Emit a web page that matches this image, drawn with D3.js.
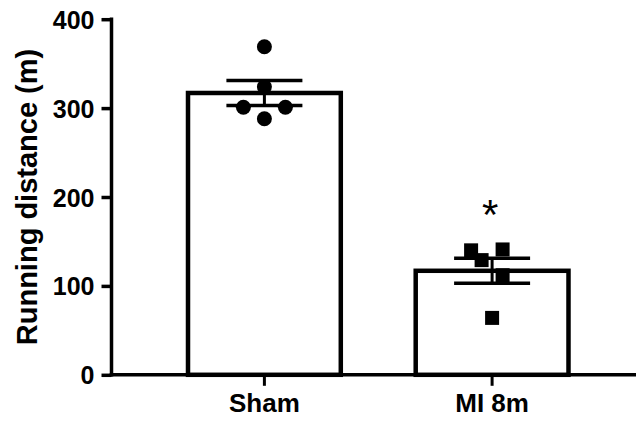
<!DOCTYPE html>
<html>
<head>
<meta charset="utf-8">
<script src="https://cdn.jsdelivr.net/npm/d3@7"></script>
<style>
  html, body { margin: 0; padding: 0; background: #fff; }
  svg { display: block; }
  text { font-family: "Liberation Sans", Arial, sans-serif; font-weight: bold; fill: #000; }
</style>
</head>
<body>
<svg id="chart" width="636" height="423"></svg>
<script>
// ---- data ----
const categories = ["Sham", "MI 8m"];
const means = [317, 117];
const sems = [14, 14];
const shamPoints = [369, 324, 301, 301, 288];
const miPoints = [140, 129, 141, 112, 64];
const shamJitter = [0, 0, -2, 2, 0];
const miJitter = [-2, -1, 1, 1, 0];
const yTicks = [0, 100, 200, 300, 400];
const significance = ["", "*"];
const yLabel = "Running distance (m)";

// ---- layout ----
const W = 636, H = 423;
const xLeft = 111.5, xRight = 636;
const yBottom = 374.8, yTop = 19.2;
const jitterUnit = 10.5;

const svg = d3.select("#chart");

const x = d3.scaleBand()
  .domain(categories)
  .range([xLeft, 645])
  .paddingInner(0.329)
  .paddingOuter(0.336);

const y = d3.scaleLinear().domain([0, 400]).range([yBottom, yTop]);

// bars
svg.append("g").selectAll("rect")
  .data(categories)
  .join("rect")
  .attr("x", d => x(d))
  .attr("y", (d, i) => y(means[i]))
  .attr("width", x.bandwidth())
  .attr("height", (d, i) => y(0) - y(means[i]))
  .attr("fill", "#fff")
  .attr("stroke", "#000")
  .attr("stroke-width", 4.5);

// error bars
const capW = 76;
const eb = svg.append("g").attr("stroke", "#000");
categories.forEach((c, i) => {
  const cx = x(c) + x.bandwidth() / 2;
  eb.append("line").attr("x1", cx).attr("x2", cx)
    .attr("y1", y(means[i] + sems[i])).attr("y2", y(means[i] - sems[i]))
    .attr("stroke-width", 3);
  [means[i] + sems[i], means[i] - sems[i]].forEach(v => {
    eb.append("line").attr("x1", cx - capW / 2).attr("x2", cx + capW / 2)
      .attr("y1", y(v)).attr("y2", y(v)).attr("stroke-width", 3.5);
  });
});

// points
const shamCx = x("Sham") + x.bandwidth() / 2;
svg.append("g").selectAll("circle")
  .data(shamPoints)
  .join("circle")
  .attr("cx", (d, i) => shamCx + shamJitter[i] * jitterUnit)
  .attr("cy", d => y(d))
  .attr("r", 7.5)
  .attr("fill", "#000");

const miCx = x("MI 8m") + x.bandwidth() / 2;
const sq = 14;
svg.append("g").selectAll("rect")
  .data(miPoints)
  .join("rect")
  .attr("x", (d, i) => miCx + miJitter[i] * jitterUnit - sq / 2)
  .attr("y", d => y(d) - sq / 2)
  .attr("width", sq)
  .attr("height", sq)
  .attr("fill", "#000");

// significance
svg.append("g").selectAll("text")
  .data(categories)
  .join("text")
  .attr("x", d => x(d) + x.bandwidth() / 2 - 2)
  .attr("y", (d, i) => y(means[i] + sems[i]) - 29)
  .attr("text-anchor", "middle")
  .attr("font-size", 42)
  .style("font-weight", "normal")
  .text((d, i) => significance[i]);

// y axis
const yAxis = d3.axisLeft(y).tickValues(yTicks).tickSize(10).tickPadding(7).tickFormat(d3.format("d"));
const gy = svg.append("g").attr("transform", `translate(${xLeft},0)`).call(yAxis);
gy.select(".domain").remove();
gy.selectAll(".tick line").attr("stroke", "#000").attr("stroke-width", 3.5);
gy.selectAll(".tick text").attr("font-size", 25).attr("font-family", null).attr("dy", "0.36em");
svg.append("line")
  .attr("x1", xLeft).attr("x2", xLeft)
  .attr("y1", y(400) - 1.75).attr("y2", y(0) + 1.75)
  .attr("stroke", "#000").attr("stroke-width", 3.5);

// x axis
const xAxis = d3.axisBottom(x).tickSize(11).tickPadding(8);
const gx = svg.append("g").attr("transform", `translate(0,${yBottom})`).call(xAxis);
gx.select(".domain").remove();
gx.selectAll(".tick line").attr("stroke", "#000").attr("stroke-width", 3);
gx.selectAll(".tick text").attr("font-size", 26).attr("font-family", null);
svg.append("line")
  .attr("x1", xLeft - 1.75).attr("x2", xRight)
  .attr("y1", yBottom).attr("y2", yBottom)
  .attr("stroke", "#000").attr("stroke-width", 3.5);

// y label
svg.append("text")
  .attr("transform", `translate(37,197) rotate(-90)`)
  .attr("text-anchor", "middle")
  .attr("font-size", 29)
  .text(yLabel);
</script>
</body>
</html>
